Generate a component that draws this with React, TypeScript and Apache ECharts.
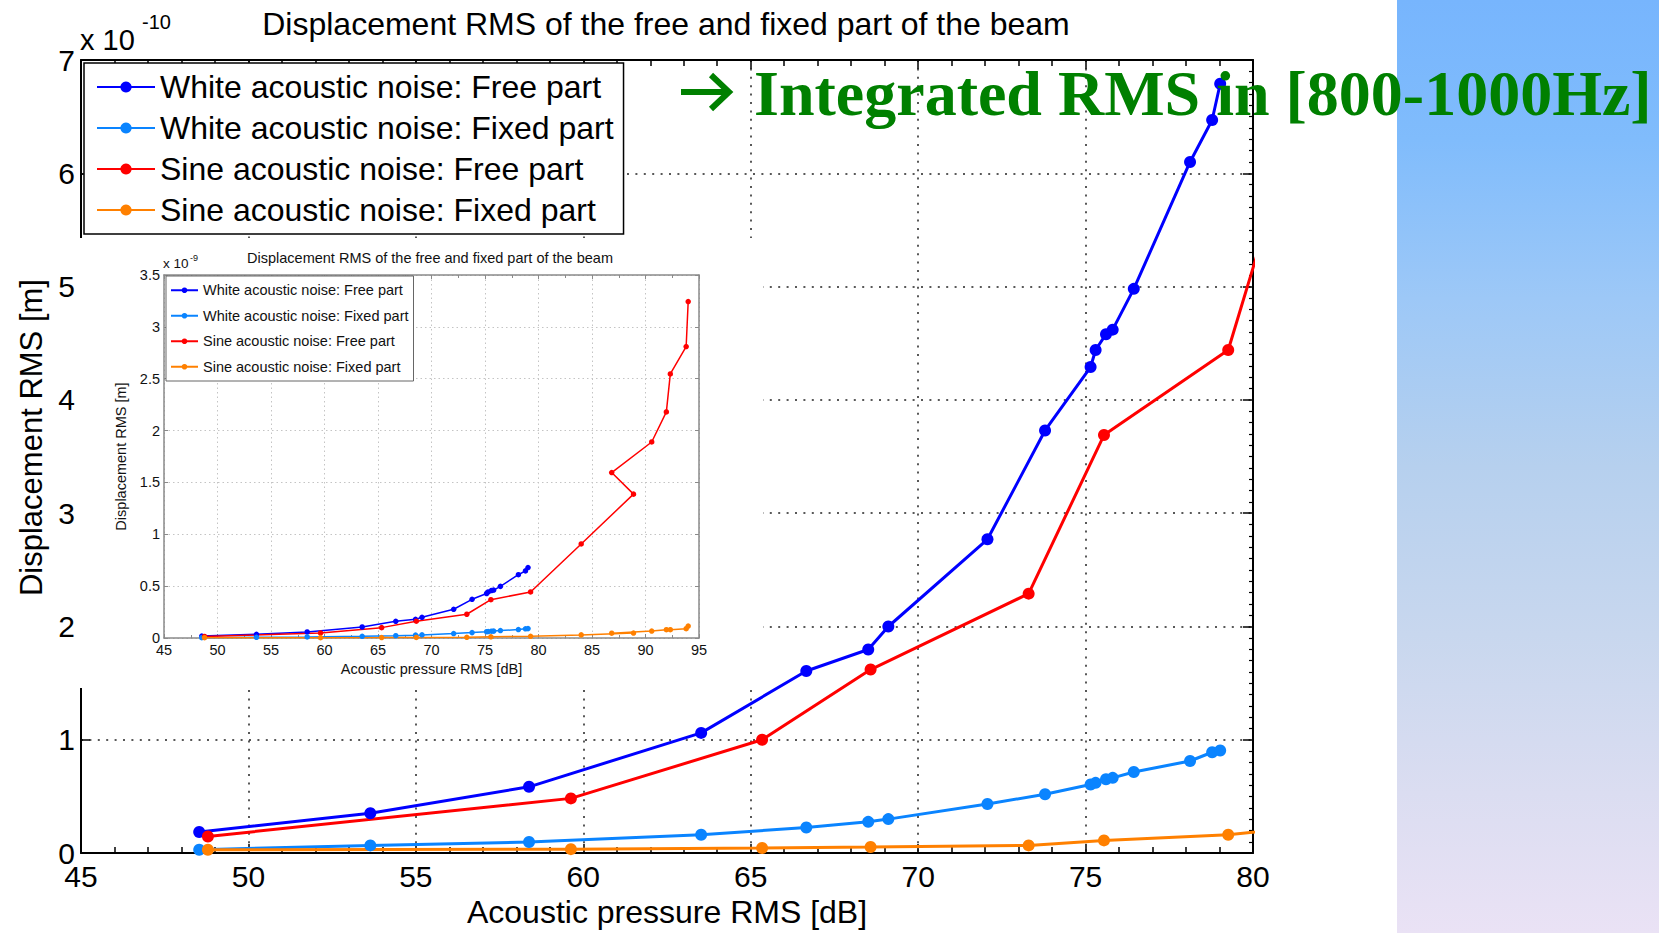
import React, { useEffect, useRef } from "react";
import * as echarts from "echarts";

// ---- data (displacement in units of 1e-10 m, pressure in dB) ----
const seriesNames = [
  "White acoustic noise: Free part",
  "White acoustic noise: Fixed part",
  "Sine acoustic noise: Free part",
  "Sine acoustic noise: Fixed part",
];
const seriesColors = ["#0000FF", "#0A84FF", "#FF0000", "#FF8000"];

const whiteX = [48.53, 53.64, 58.38, 63.52, 66.66, 68.51, 69.11, 72.07, 73.79, 75.15, 75.3, 75.61, 75.81, 76.44, 78.12, 78.78, 79.02];
const whiteFreeY = [0.186, 0.352, 0.585, 1.061, 1.607, 1.797, 2.0, 2.77, 3.73, 4.29, 4.44, 4.58, 4.62, 4.98, 6.1, 6.47, 6.79];
const whiteFixedY = [0.03, 0.068, 0.098, 0.162, 0.226, 0.276, 0.3, 0.433, 0.52, 0.605, 0.62, 0.652, 0.664, 0.716, 0.813, 0.89, 0.906];
const sineX = [48.79, 59.63, 65.34, 68.58, 73.3, 75.55, 79.26, 83.99, 88.88, 86.84, 90.58, 91.95, 92.32, 93.8, 93.99];
const sineFreeY = [0.147, 0.483, 1.0, 1.62, 2.29, 3.69, 4.44, 9.07, 13.87, 15.95, 18.9, 21.8, 25.46, 28.1, 32.44];
const sineFixedY = [0.03, 0.035, 0.045, 0.054, 0.068, 0.112, 0.162, 0.3, 0.48, 0.46, 0.67, 0.8, 0.8, 0.9, 1.15];

const mainXTicks = { min: 45, max: 80, interval: 5 };
const mainYTicks = { min: 0, max: 7, interval: 1 };
const insetXTicks = { min: 45, max: 95, interval: 5 };
const insetYTicks = { min: 0, max: 3.5, interval: 0.5 };

const titleText = "Displacement RMS of the free and fixed part of the beam";
const xName = "Acoustic pressure RMS [dB]";
const yName = "Displacement RMS [m]";
const noteText = "Integrated RMS in [800-1000Hz]";

const FONT = '"Liberation Sans", Arial, Helvetica, sans-serif';

const zip = (xs: number[], ys: number[], scale = 1) => xs.map((x, i) => [x, ys[i] * scale]);

const seriesData = (scale: number) => [
  zip(whiteX, whiteFreeY, scale),
  zip(whiteX, whiteFixedY, scale),
  zip(sineX, sineFreeY, scale),
  zip(sineX, sineFixedY, scale),
];

function buildMain(): any {
  const data = seriesData(1);
  const axisLine = { show: true, onZero: false, lineStyle: { color: "#000", width: 2 } };
  const dotted = { show: true, lineStyle: { color: "#222", width: 1.5, type: [2, 6.4] } };
  const green = "#008000";
  return {
    animation: false,
    backgroundColor: "#fff",
    title: {
      text: titleText,
      left: 666,
      top: 8,
      textAlign: "center",
      padding: 0,
      textStyle: { fontFamily: FONT, fontSize: 32, fontWeight: "normal", color: "#000" },
    },
    legend: {
      orient: "vertical",
      left: 84,
      top: 63,
      padding: [8, 10, 8, 12],
      itemGap: 9,
      itemWidth: 58,
      itemHeight: 14,
      backgroundColor: "#fff",
      borderColor: "#000",
      borderWidth: 1.5,
      textStyle: { fontFamily: FONT, fontSize: 32, lineHeight: 32, color: "#000" },
      data: seriesNames,
    },
    grid: { left: 81, right: 406, top: 60, bottom: 74, containLabel: false },
    xAxis: [
      {
        type: "value",
        ...mainXTicks,
        position: "bottom",
        axisLine,
        axisTick: { show: true, inside: true, length: 9, lineStyle: { color: "#000", width: 1.5 } },
        minorTick: { show: true, splitNumber: 5, length: 6, lineStyle: { color: "#000", width: 1.5 } },
        axisLabel: { fontFamily: FONT, fontSize: 30, color: "#000", margin: 8 },
        splitLine: dotted,
        name: xName,
        nameLocation: "middle",
        nameGap: 41,
        nameTextStyle: { fontFamily: FONT, fontSize: 32, color: "#000" },
      },
      {
        type: "value",
        ...mainXTicks,
        position: "top",
        axisLine,
        axisTick: { show: true, inside: true, length: 9, lineStyle: { color: "#000", width: 1.5 } },
        minorTick: { show: true, splitNumber: 5, length: 6, lineStyle: { color: "#000", width: 1.5 } },
        axisLabel: { show: false },
        splitLine: { show: false },
      },
    ],
    yAxis: [
      {
        type: "value",
        ...mainYTicks,
        position: "left",
        axisLine,
        axisTick: { show: true, inside: true, length: 9, lineStyle: { color: "#000", width: 1.5 } },
        axisLabel: { fontFamily: FONT, fontSize: 30, color: "#000", margin: 6 },
        splitLine: dotted,
        name: yName,
        nameLocation: "middle",
        nameGap: 34,
        nameTextStyle: { fontFamily: FONT, fontSize: 31, color: "#000", padding: [0, 0, 0, 38] },
      },
      {
        type: "value",
        ...mainYTicks,
        position: "right",
        axisLine,
        axisTick: { show: true, inside: true, length: 10, lineStyle: { color: "#000", width: 1.5 } },
        minorTick: { show: true, splitNumber: 10, length: 4, lineStyle: { color: "#000", width: 1.2 } },
        axisLabel: { show: false },
        splitLine: { show: false },
      },
    ],
    series: seriesNames.map((name, i) => ({
      type: "line",
      name,
      data: data[i],
      xAxisIndex: 0,
      yAxisIndex: 0,
      symbol: "circle",
      symbolSize: 12,
      showSymbol: true,
      clip: true,
      color: seriesColors[i],
      lineStyle: { width: 3, color: seriesColors[i] },
      itemStyle: { color: seriesColors[i] },
      emphasis: { disabled: true },
    })),
    graphic: [
      {
        type: "rect",
        z: 0,
        shape: { x: 1397, y: 0, width: 262, height: 933 },
        style: {
          fill: new echarts.graphic.LinearGradient(0, 0, 0, 1, [
            { offset: 0, color: "#77B5FD" },
            { offset: 0.15, color: "#80BCFC" },
            { offset: 0.32, color: "#9DC8F7" },
            { offset: 0.5, color: "#B6D0EE" },
            { offset: 0.68, color: "#C8D7EE" },
            { offset: 0.85, color: "#DBDDF1" },
            { offset: 1, color: "#EAE2F5" },
          ]),
        },
      },
      {
        type: "text",
        z: 100,
        x: 80,
        y: 40,
        style: { text: "x 10", font: `29px ${FONT}`, fill: "#000", textAlign: "left", textVerticalAlign: "middle", align: "left", verticalAlign: "middle" },
      },
      {
        type: "text",
        z: 100,
        x: 142,
        y: 22,
        style: { text: "-10", font: `20px ${FONT}`, fill: "#000", textAlign: "left", textVerticalAlign: "middle", align: "left", verticalAlign: "middle" },
      },
      {
        type: "polyline",
        z: 100,
        shape: { points: [[681, 92], [726, 92]] },
        style: { stroke: green, lineWidth: 6, fill: null },
      },
      {
        type: "polyline",
        z: 100,
        shape: { points: [[711, 75], [729, 92], [711, 109]] },
        style: { stroke: green, lineWidth: 6, fill: null, lineJoin: "miter" },
      },
      {
        type: "text",
        z: 100,
        x: 754,
        y: 93,
        style: { text: noteText, font: `bold 64px "Liberation Serif", "Times New Roman", serif`, fill: green, textAlign: "left", textVerticalAlign: "middle", align: "left", verticalAlign: "middle" },
      },
    ],
  };
}

function buildInset(): any {
  const data = seriesData(0.1);
  const grayLine = { show: true, onZero: false, lineStyle: { color: "#8a8a8a", width: 1.5 } };
  const dotted = { show: true, lineStyle: { color: "#c4c4c4", width: 1, type: [1.5, 3] } };
  const tick = { show: true, inside: true, length: 4, lineStyle: { color: "#8a8a8a", width: 1 } };
  const label = { fontFamily: FONT, fontSize: 14.5, color: "#111" };
  return {
    animation: false,
    backgroundColor: "#fff",
    title: {
      text: titleText,
      left: 353,
      top: 12,
      textAlign: "center",
      padding: 0,
      textStyle: { fontFamily: FONT, fontSize: 14.5, fontWeight: "normal", color: "#111" },
    },
    legend: {
      orient: "vertical",
      left: 89,
      top: 38,
      padding: [6.75, 5, 6.75, 4],
      itemGap: 10.5,
      itemWidth: 27,
      itemHeight: 7,
      backgroundColor: "#fff",
      borderColor: "#666",
      borderWidth: 1,
      textStyle: { fontFamily: FONT, fontSize: 14.5, lineHeight: 14.5, color: "#111" },
      data: seriesNames,
    },
    grid: { left: 87, right: 64, top: 37, bottom: 50, containLabel: false },
    xAxis: [
      {
        type: "value",
        ...insetXTicks,
        position: "bottom",
        axisLine: grayLine,
        axisTick: tick,
        minorTick: { show: true, splitNumber: 2, length: 3, lineStyle: { color: "#8a8a8a", width: 1 } },
        axisLabel: { ...label, margin: 4 },
        splitLine: dotted,
        name: xName,
        nameLocation: "middle",
        nameGap: 20,
        nameTextStyle: label,
      },
      {
        type: "value",
        ...insetXTicks,
        position: "top",
        axisLine: grayLine,
        axisTick: tick,
        minorTick: { show: true, splitNumber: 2, length: 3, lineStyle: { color: "#8a8a8a", width: 1 } },
        axisLabel: { show: false },
        splitLine: { show: false },
      },
    ],
    yAxis: [
      {
        type: "value",
        ...insetYTicks,
        position: "left",
        axisLine: grayLine,
        axisTick: tick,
        axisLabel: { ...label, margin: 4 },
        splitLine: dotted,
        name: yName,
        nameLocation: "middle",
        nameGap: 27,
        nameTextStyle: label,
      },
      {
        type: "value",
        ...insetYTicks,
        position: "right",
        axisLine: grayLine,
        axisTick: tick,
        axisLabel: { show: false },
        splitLine: { show: false },
      },
    ],
    series: seriesNames.map((name, i) => ({
      type: "line",
      name,
      data: data[i],
      xAxisIndex: 0,
      yAxisIndex: 0,
      symbol: "circle",
      symbolSize: 5.5,
      showSymbol: true,
      clip: true,
      color: seriesColors[i],
      lineStyle: { width: 1.5, color: seriesColors[i] },
      itemStyle: { color: seriesColors[i] },
      emphasis: { disabled: true },
    })),
    graphic: [
      {
        type: "text",
        x: 86,
        y: 25,
        style: { text: "x 10", font: `13.5px ${FONT}`, fill: "#111", textAlign: "left", textVerticalAlign: "middle", align: "left", verticalAlign: "middle" },
      },
      {
        type: "text",
        x: 113,
        y: 20,
        style: { text: "-9", font: `9px ${FONT}`, fill: "#111", textAlign: "left", textVerticalAlign: "middle", align: "left", verticalAlign: "middle" },
      },
    ],
  };
}

export default function App() {
  const mainRef = useRef<HTMLDivElement>(null);
  const insetRef = useRef<HTMLDivElement>(null);
  useEffect(() => {
    const main = echarts.init(mainRef.current!, undefined, { renderer: "svg" });
    main.setOption(buildMain());
    const inset = echarts.init(insetRef.current!, undefined, { renderer: "svg" });
    inset.setOption(buildInset());
    return () => {
      main.dispose();
      inset.dispose();
    };
  }, []);
  return (
    <div style={{ position: "absolute", left: 0, top: 0, width: 1659, height: 933, background: "#fff", overflow: "hidden" }}>
      <div ref={mainRef} style={{ position: "absolute", left: 0, top: 0, width: 1659, height: 933 }} />
      <div ref={insetRef} style={{ position: "absolute", left: 77, top: 238, width: 686, height: 450, background: "#fff" }} />
    </div>
  );
}
